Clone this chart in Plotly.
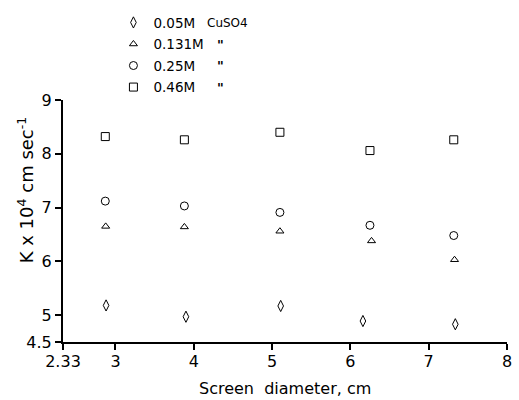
import plotly.graph_objects as go

# Data
x_diam = [2.87, 3.88, 5.10, 6.25, 7.32]
k_046 = [8.32, 8.26, 8.40, 8.06, 8.26]
k_025 = [7.12, 7.03, 6.91, 6.67, 6.48]
x_013 = [2.875, 3.88, 5.10, 6.27, 7.33]
k_013 = [6.65, 6.64, 6.56, 6.38, 6.03]
x_005 = [2.88, 3.90, 5.11, 6.16, 7.34]
k_005 = [5.18, 4.97, 5.17, 4.89, 4.83]

series_names = ["0.05M", "0.131M", "0.25M", "0.46M"]
x_ticks = [2.33, 3, 4, 5, 6, 7, 8]
x_ticklabels = ["2.33", "3", "4", "5", "6", "7", "8"]
y_ticks = [4.5, 5, 6, 7, 8, 9]
y_ticklabels = ["4.5", "5", "6", "7", "8", "9"]

FONT = "DejaVu Sans"
mline = dict(color="black", width=1)

fig = go.Figure()
fig.add_trace(go.Scatter(x=x_005, y=k_005, mode="markers", name=series_names[0], legendgroup="a",
                         marker=dict(symbol="diamond-tall-open", size=8, color="black", line=mline)))
fig.add_trace(go.Scatter(x=x_013, y=k_013, mode="markers", name=series_names[1], legendgroup="b",
                         marker=dict(symbol="triangle-up-open", size=7, color="black", line=mline)))
fig.add_trace(go.Scatter(x=x_diam, y=k_025, mode="markers", name=series_names[2], legendgroup="c",
                         marker=dict(symbol="circle-open", size=8, color="black", line=mline)))
fig.add_trace(go.Scatter(x=x_diam, y=k_046, mode="markers", name=series_names[3], legendgroup="d",
                         marker=dict(symbol="square-open", size=8, color="black", line=mline)))

L, R, T, B = 63, 7, 97, 58
W, H = 519, 400
pw = W - L - R
ph = H - T - B

def px_x(p):
    return (p - L) / pw

def px_y(p):
    return (H - B - p) / ph

fig.update_layout(
    width=W, height=H,
    margin=dict(l=L, r=R, t=T, b=B),
    paper_bgcolor="white", plot_bgcolor="white",
    font=dict(family=FONT, color="black", size=15),
    showlegend=True,
    legend=dict(x=px_x(114), y=px_y(3), xanchor="left", yanchor="top",
                font=dict(size=13.5, family=FONT, color="black"), tracegroupgap=1,
                bgcolor="rgba(0,0,0,0)", itemwidth=30),
    xaxis=dict(range=[2.33, 8], tickmode="array", tickvals=x_ticks, ticktext=x_ticklabels,
               showgrid=False, zeroline=False, showline=True, linecolor="black", linewidth=2,
               ticks="outside", ticklen=6, tickwidth=1.5, tickcolor="black",
               ticklabelstandoff=-2,
               tickfont=dict(size=16, family=FONT, color="black")),
    yaxis=dict(range=[4.5, 9], tickmode="array", tickvals=y_ticks, ticktext=y_ticklabels,
               showgrid=False, zeroline=False, showline=True, linecolor="black", linewidth=2,
               ticks="outside", ticklen=6, tickwidth=1.5, tickcolor="black",
               tickfont=dict(size=16, family=FONT, color="black")),
)

annots = [
    dict(text="Screen&nbsp;&nbsp;diameter,&nbsp;cm", x=px_x(288), y=px_y(389), xref="paper", yref="paper",
         showarrow=False, font=dict(size=16, family=FONT, color="black"), xanchor="center", yanchor="middle"),
    dict(text="K x 10<sup>4</sup> cm sec<sup>-1</sup>", x=px_x(25), y=px_y(188), xref="paper", yref="paper",
         showarrow=False, textangle=-90, font=dict(size=18, family=FONT, color="black"),
         xanchor="center", yanchor="middle"),
    dict(text="CuSO4", x=px_x(207), y=px_y(19), xref="paper", yref="paper",
         showarrow=False, font=dict(size=12, family=FONT, color="black"), xanchor="left", yanchor="middle"),
]
for yy in [41, 62, 84]:
    annots.append(dict(text='<b>"</b>', x=px_x(222), y=px_y(yy), xref="paper", yref="paper",
                       showarrow=False, font=dict(size=13, family=FONT, color="black"),
                       xanchor="center", yanchor="middle"))
fig.update_layout(annotations=annots)

fig.write_html("out.html")
